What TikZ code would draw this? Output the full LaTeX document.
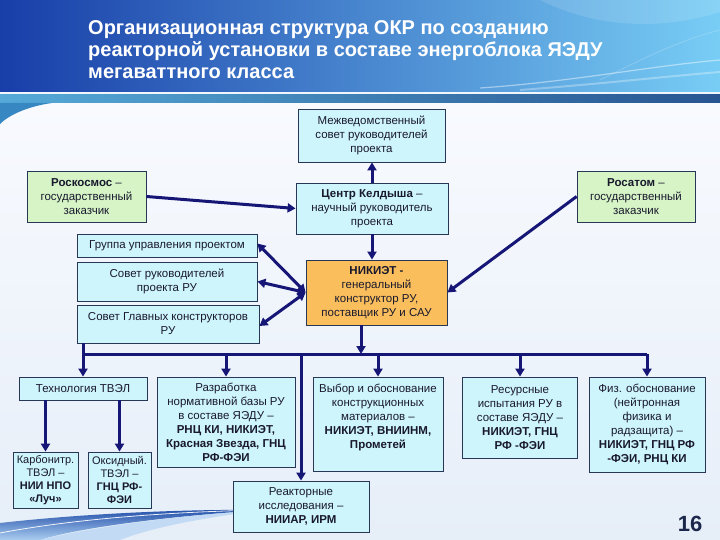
\documentclass[tikz,border=0pt]{standalone}
\usepackage{fontspec}
\setmainfont{Liberation Sans}
\usetikzlibrary{arrows.meta}
\definecolor{navy}{RGB}{22,22,118}
\definecolor{cyanbox}{RGB}{206,245,251}
\definecolor{greenbox}{RGB}{214,244,198}
\definecolor{orangebox}{RGB}{251,190,92}
\definecolor{boxline}{RGB}{40,55,85}
\definecolor{txt}{RGB}{25,25,45}
\definecolor{hdA}{RGB}{24,62,168}
\definecolor{hdB}{RGB}{45,130,220}
\definecolor{hdC}{RGB}{120,205,245}
\definecolor{bodyA}{RGB}{248,250,254}
\definecolor{bodyB}{RGB}{230,238,248}
\definecolor{stripeA}{RGB}{85,170,215}
\definecolor{stripeM}{RGB}{78,140,195}
\definecolor{stripeB}{RGB}{40,85,145}
\definecolor{stripW}{RGB}{240,246,252}
\definecolor{corner}{RGB}{55,135,195}
\definecolor{swooshD}{RGB}{35,80,170}
\definecolor{swooshL}{RGB}{170,205,240}
\definecolor{pagenum}{RGB}{28,40,75}
\begin{document}
\begin{tikzpicture}[x=1pt,y=-1pt,
  box/.style={draw=boxline,line width=0.8pt,fill=cyanbox,align=center,inner sep=1pt,
    font=\fontsize{11.5}{14}\selectfont,text=txt},
  gbox/.style={box,fill=greenbox},
  obox/.style={box,fill=orangebox},
  smallbox/.style={box,inner sep=0pt,font=\fontsize{11}{13}\selectfont},
  conn/.style={draw=navy,line width=3pt,-{Triangle[length=8pt,width=9pt]}},
  dconn/.style={draw=navy,line width=3pt,{Triangle[length=8pt,width=9pt]}-{Triangle[length=8pt,width=9pt]}},
  busline/.style={draw=navy,line width=3pt}]
\useasboundingbox (0,0) rectangle (720,540);
% background
\shade[top color=bodyA,bottom color=bodyB] (0,103) rectangle (720,540);
\shade[left color=hdA,middle color=hdB,right color=hdC] (0,0) rectangle (720,92);
\fill[white,opacity=0.12] (540,0) .. controls (610,35) and (680,25) .. (720,12) -- (720,0) -- cycle;
\draw[white,opacity=0.45,line width=1.2pt] (480,88) .. controls (570,82) and (650,66) .. (720,60);
\draw[white,opacity=0.3,line width=2pt] (520,90) .. controls (600,84) and (670,76) .. (720,72);
\draw[white,opacity=0.2,line width=0.8pt] (600,80) .. controls (640,60) and (680,40) .. (720,30);
\fill[stripW] (0,92) rectangle (720,95);
\shade[left color=stripeA,middle color=stripeM,right color=stripeB] (0,95) rectangle (720,103);
\fill[corner] (0,103) -- (52,103) .. controls (30,106) and (10,114) .. (0,124) -- cycle;
\shade[top color=swooshD,bottom color=swooshL] (0,540) -- (0,523) .. controls (80,514) and (180,509) .. (265,510)
   .. controls (180,515) and (80,527) .. (40,540) -- cycle;
\fill[swooshL,opacity=0.6] (40,540) .. controls (90,527) and (190,514) .. (265,510)
   .. controls (200,518) and (150,528) .. (120,540) -- cycle;
\draw[white,opacity=0.9,line width=0.8pt] (0,533) .. controls (90,516) and (200,511) .. (265,510);
% title
\node[anchor=north west,inner sep=0pt,align=left,text=white,
  font=\fontsize{20}{22}\selectfont\bfseries] (title) at (88,20)
  {Организационная структура ОКР по созданию\\реакторной установки в составе энергоблока ЯЭДУ\\мегаваттного класса};
% boxes
\node[box,minimum width=147pt,minimum height=53pt] (mv) at (371.5,135.5) {Межведомственный\\совет руководителей\\проекта};
\node[gbox,minimum width=119pt,minimum height=51pt] (rk) at (86.5,196.5) {\textbf{Роскосмос} –\\государственный\\заказчик};
\node[box,minimum width=152pt,minimum height=51pt] (ck) at (372,208.5) {\textbf{Центр Келдыша} –\\научный руководитель\\проекта};
\node[gbox,minimum width=118pt,minimum height=51pt] (ra) at (636,196.5) {\textbf{Росатом} –\\государственный\\заказчик};
\node[box,minimum width=180pt,minimum height=23pt] (gu) at (167,245.5) {Группа управления проектом};
\node[box,minimum width=180pt,minimum height=39pt] (sr) at (167,281.5) {Совет руководителей\\проекта РУ};
\node[box,minimum width=182pt,minimum height=38pt] (sg) at (168,324) {Совет Главных конструкторов\\РУ};
\node[obox,minimum width=141pt,minimum height=65pt] (nk) at (376.5,292.5) {\textbf{НИКИЭТ -}\\генеральный\\конструктор РУ,\\поставщик РУ и САУ};
\node[box,minimum width=128pt,minimum height=23pt] (tv) at (83,388.5) {Технология ТВЭЛ};
\node[smallbox,minimum width=65pt,minimum height=56pt] (kb) at (45.5,480) {Карбонитр.\\ТВЭЛ –\\\textbf{НИИ НПО}\\\textbf{«Луч»}};
\node[smallbox,minimum width=63pt,minimum height=56pt] (ox) at (119.5,480) {Оксидный.\\ТВЭЛ –\\\textbf{ГНЦ РФ-}\\\textbf{ФЭИ}};
\node[box,minimum width=138pt,minimum height=90pt] (rz) at (226,422) {Разработка\\нормативной базы РУ\\в составе ЯЭДУ –\\\textbf{РНЦ КИ, НИКИЭТ,}\\\textbf{Красная Звезда, ГНЦ}\\\textbf{РФ-ФЭИ}};
\node[box,minimum width=130pt,minimum height=94pt] (vb) at (378,424) {Выбор и обоснование\\конструкционных\\материалов –\\\textbf{НИКИЭТ, ВНИИНМ,}\\\textbf{Прометей}\\[2pt]\mbox{}};
\node[box,minimum width=115pt,minimum height=81pt] (rs) at (520,417.5) {Ресурсные\\испытания РУ в\\составе ЯЭДУ –\\\textbf{НИКИЭТ, ГНЦ}\\\textbf{РФ -ФЭИ}};
\node[box,minimum width=116pt,minimum height=95pt] (fz) at (647,424.5) {Физ. обоснование\\(нейтронная\\физика и\\радзащита) –\\\textbf{НИКИЭТ, ГНЦ РФ}\\\textbf{-ФЭИ, РНЦ КИ}};
\node[box,minimum width=136pt,minimum height=51pt] (ri) at (301,506.5) {Реакторные\\исследования –\\\textbf{НИИАР, ИРМ}};
\node[text=pagenum,font=\fontsize{22}{24}\selectfont\bfseries,inner sep=0pt] (pg) at (690,524) {16};
% connectors
\draw[conn] (rk.east) -- (ck.west);
\draw[conn] (ck.north) -- (ck.north |- mv.south);
\draw[conn] (ck.south) -- (ck.south |- nk.north);
\draw[conn] (ra.west) -- (nk.east);
\draw[dconn] (nk.west) -- ([yshift=2pt]gu.east);
\draw[dconn] (nk.west) -- (sr.east);
\draw[dconn] (nk.west) -- ([yshift=-2pt]sg.east);
\coordinate (busL) at (83,354);
\coordinate (busR) at (647,354);
\coordinate (nkb) at ([xshift=-15.5pt]nk.south);
\draw[busline] (tv.north |- sg.south) -- (busL) -- (busR);
\draw[conn] (nkb) -- (nkb |- busL);
\draw[conn] (busL) -- (tv.north);
\draw[conn] (rz.north |- busL) -- (rz.north);
\draw[conn] (ri.north |- busL) -- (ri.north);
\draw[conn] (vb.north |- busL) -- (vb.north);
\draw[conn] (rs.north |- busL) -- (rs.north);
\draw[conn] (busR) -- (fz.north);
\draw[conn] (kb.north |- tv.south) -- (kb.north);
\draw[conn] (ox.north |- tv.south) -- (ox.north);
\end{tikzpicture}
\end{document}
